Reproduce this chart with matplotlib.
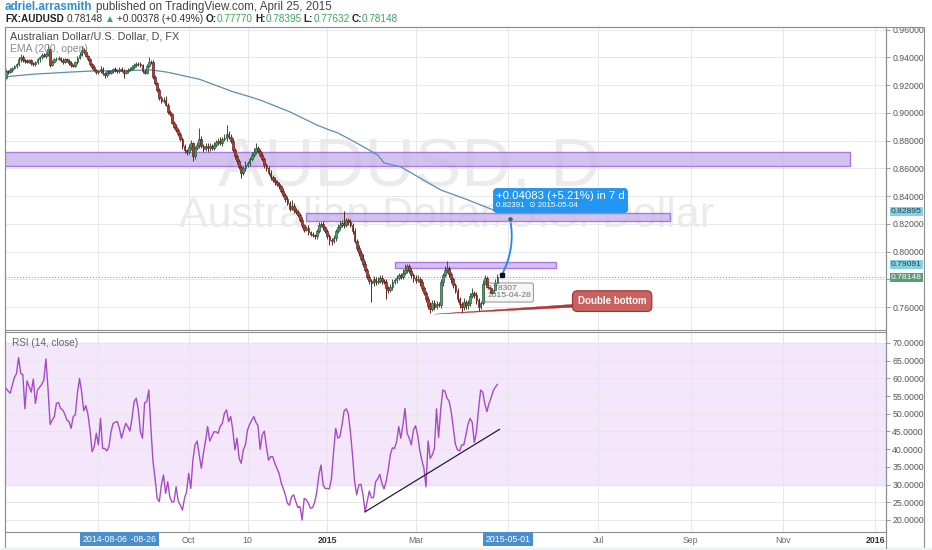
import matplotlib
matplotlib.use("Agg")
import matplotlib.pyplot as plt
import numpy as np
import pandas as pd
from matplotlib.offsetbox import TextArea, VPacker, AnnotationBbox

plt.rcParams['font.family'] = ['Liberation Sans', 'DejaVu Sans']

W, H = 932, 550

# daily closes in pips (x 1e-4), one row per week, Jun 2 2014 .. Apr 24 2015
first_open = 0.9255
closes_pips = [
    9300, 9295, 9310, 9325, 9335,
    9350, 9385, 9405, 9380, 9375,
    9370, 9380, 9360, 9350, 9365,
    9385, 9400, 9420, 9410, 9425,
    9460, 9345, 9370, 9385, 9390,
    9395, 9380, 9370, 9385, 9375,
    9360, 9345, 9340, 9365, 9395,
    9420, 9455, 9440, 9410, 9385,
    9350, 9330, 9310, 9295, 9300,
    9320, 9285, 9270, 9300, 9290,
    9300, 9315, 9310, 9300, 9320,
    9305, 9290, 9300, 9310, 9320,
    9330, 9345, 9355, 9350, 9345,
    9305, 9290, 9340, 9370, 9365,
    9260, 9215, 9165, 9110, 9085,
    9095, 9060, 9010, 8990, 8930,
    8900, 8880, 8850, 8810, 8760,
    8730, 8720, 8755, 8780, 8690,
    8745, 8770, 8815, 8760, 8740,
    8765, 8745, 8760, 8750, 8770,
    8790, 8800, 8785, 8810, 8820,
    8850, 8830, 8800, 8735, 8690,
    8650, 8610, 8570, 8600, 8625,
    8640, 8665, 8700, 8720, 8745,
    8725, 8700, 8670, 8625, 8600,
    8570, 8540, 8520, 8500, 8490,
    8470, 8440, 8410, 8380, 8350,
    8310, 8330, 8300, 8285, 8265,
    8230, 8190, 8160, 8170, 8140,
    8130, 8120, 8110, 8150, 8195,
    8200, 8175, 8150, 8110, 8085,
    8075, 8100, 8150, 8180, 8195,
    8210, 8190, 8225, 8215, 8195,
    8150, 8080, 8030, 7990, 7950,
    7910, 7870, 7820, 7790, 7775,
    7800, 7785, 7790, 7810, 7790,
    7780, 7740, 7725, 7745, 7780,
    7795, 7810, 7830, 7820, 7850,
    7870, 7895, 7860, 7830, 7810,
    7795, 7805, 7780, 7740, 7700,
    7660, 7610, 7590, 7630, 7605,
    7625, 7615, 7780, 7830, 7865,
    7880, 7840, 7800, 7760, 7720,
    7660, 7620, 7600, 7640, 7615,
    7630, 7680, 7705, 7690, 7650,
    7605, 7630, 7770, 7810, 7745,
    7740, 7705, 7725, 7777, 7814.8,
]
up_wick = [
    15, 10, 12, 8, 10,   12, 15, 18, 10, 12,   10, 12, 8, 10, 12,   10, 12, 15, 10, 12,
    35, 10, 12, 10, 15,  12, 10, 15, 10, 12,   10, 12, 8, 10, 15,   20, 25, 10, 12, 10,
    12, 10, 15, 10, 12,  15, 12, 10, 12, 10,   12, 10, 15, 10, 12,  10, 12, 10, 15, 12,
    15, 12, 10, 12, 15,  10, 12, 15, 30, 12,   15, 12, 10, 15, 12,  20, 25, 15, 12, 10,
    15, 20, 12, 10, 15,  15, 12, 20, 25, 12,   15, 20, 75, 20, 15,  20, 15, 25, 15, 20,
    15, 20, 30, 15, 25,  60, 20, 15, 20, 15,   15, 20, 15, 20, 25,  15, 20, 15, 25, 40,
    20, 15, 20, 15, 12,  15, 20, 12, 15, 20,   15, 12, 20, 15, 25,  15, 45, 20, 12, 15,
    15, 20, 12, 15, 20,  12, 15, 10, 15, 20,   15, 20, 12, 15, 20,  15, 20, 15, 20, 25,
    20, 80, 20, 15, 20,  15, 20, 15, 20, 25,   30, 20, 15, 20, 15,  25, 20, 30, 20, 25,
    15, 20, 15, 25, 20,  15, 20, 15, 20, 25,   40, 20, 15, 20, 15,  20, 25, 15, 20, 15,
    15, 20, 25, 20, 20,  20, 15, 25, 20, 30,   55, 20, 15, 20, 15,  20, 15, 20, 25, 15,
    20, 25, 30, 15, 20,  20, 15, 25, 20, 15,   20, 25, 20, 25, 24.7,
]
dn_wick = [
    10, 12, 10, 15, 12,  10, 12, 15, 10, 12,   12, 10, 15, 12, 10,  10, 15, 12, 10, 12,
    12, 15, 10, 12, 10,  12, 10, 15, 12, 10,   15, 12, 10, 12, 10,  10, 12, 15, 10, 12,
    12, 15, 10, 12, 15,  15, 12, 20, 10, 12,   10, 12, 15, 10, 12,  12, 35, 10, 12, 10,
    10, 12, 15, 10, 12,  15, 12, 10, 12, 15,   15, 12, 15, 20, 15,  15, 12, 20, 15, 12,
    15, 20, 15, 12, 20,  20, 25, 15, 20, 40,   20, 15, 20, 15, 25,  15, 25, 20, 15, 20,
    15, 20, 15, 20, 15,  20, 15, 20, 15, 20,   20, 15, 40, 15, 20,  15, 20, 15, 20, 15,
    15, 20, 15, 20, 15,  15, 20, 15, 20, 15,   15, 20, 15, 20, 15,  15, 12, 20, 15, 12,
    15, 20, 15, 12, 20,  15, 12, 20, 15, 12,   15, 20, 15, 20, 35,  30, 15, 20, 15, 20,
    15, 20, 15, 20, 15,  20, 15, 25, 20, 15,   20, 15, 20, 25, 135, 20, 25, 20, 15, 20,
    15, 80, 20, 15, 20,  15, 20, 15, 20, 15,   15, 20, 15, 20, 25,  20, 15, 25, 20, 15,
    25, 20, 30, 20, 25,  20, 15, 20, 25, 15,   15, 20, 25, 20, 15,  20, 25, 40, 20, 25,
    25, 20, 15, 20, 25,  30, 20, 15, 20, 25,   20, 25, 20, 14, 13.8,
]

# RSI(14, close)
rsi_vals = [
    57.2, 56.4, 55.8, 58.1, 60.2,  61.4, 65.9, 61.4, 61.1, 51.4,
    59.3, 57.7, 56.1, 59.8, 52.9,  56.7, 57.5, 58.3, 59.5, 65.5,
    57.2, 47.0, 48.2, 49.2, 52.9,  53.2, 51.5, 51.1, 49.9, 48.2,
    47.8, 45.9, 49.2, 49.7, 55.8,  60.0, 56.2, 50.8, 52.3, 49.9,
    45.4, 39.3, 40.7, 44.5, 41.2,  48.7, 40.2, 40.2, 39.5, 40.7,
    44.9, 47.3, 47.6, 47.8, 45.9,  43.1, 45.2, 47.3, 46.4, 45.1,
    48.7, 53.4, 54.4, 51.1, 44.9,  43.1, 53.1, 53.4, 56.7, 45.9,
    36.5, 31.6, 26.1, 25.2, 29.9,  32.7, 27.5, 30.8, 26.6, 25.0,
    25.2, 29.4, 25.4, 24.2, 22.8,  26.1, 28.0, 33.2, 28.9, 36.9,
    41.2, 42.3, 38.5, 34.6, 38.8,  42.3, 46.4, 42.3, 43.5, 44.9,
    44.9, 44.5, 46.4, 47.3, 50.1,  51.1, 47.8, 49.2, 45.4, 39.8,
    43.1, 37.4, 36.0, 39.8, 41.2,  45.4, 47.0, 48.2, 49.2, 47.6,
    46.6, 40.0, 44.0, 45.1, 40.7,  36.9, 37.9, 37.9, 36.0, 34.6,
    33.2, 30.6, 28.9, 27.1, 24.7,  24.2, 26.6, 27.1, 25.2, 23.5,
    23.8, 20.0, 26.1, 25.7, 24.7,  23.3, 23.5, 25.0, 28.0, 32.7,
    35.5, 29.9, 28.9, 28.9, 28.8,  31.8, 39.3, 45.9, 43.1, 43.5,
    46.8, 50.8, 51.4, 50.1, 44.9,  38.4, 30.8, 27.1, 29.9, 30.1,
    27.1, 22.3, 25.2, 28.2, 26.3,  26.3, 30.8, 31.6, 32.9, 30.3,
    28.8, 30.8, 34.1, 38.4, 40.4,  40.2, 42.1, 46.4, 43.1, 46.8,
    51.5, 44.5, 43.1, 41.2, 45.4,  46.6, 44.0, 39.8, 36.9, 34.6,
    29.4, 42.3, 37.4, 38.4, 40.2,  51.4, 43.3, 51.1, 56.7, 56.4,
    54.4, 53.6, 50.6, 45.9, 41.4,  39.8, 39.5, 41.2, 41.2, 44.0,
    47.0, 48.7, 47.6, 41.9, 44.8,  51.1, 56.7, 56.2, 52.9, 50.6,
    52.9, 54.5, 56.5, 57.5, 58.3,
]

# EMA(200, open) read at a few dates
ema_dates = ['2014-06-02', '2014-06-19', '2014-07-11', '2014-07-29', '2014-08-14',
             '2014-09-05', '2014-09-17', '2014-10-08', '2014-10-30', '2014-11-11',
             '2014-11-18', '2014-12-08', '2014-12-25', '2015-01-02', '2015-01-08',
             '2015-01-21', '2015-02-04', '2015-02-09', '2015-02-19', '2015-03-18',
             '2015-04-06', '2015-04-22', '2015-04-24']
ema_vals = [0.9261, 0.9279, 0.9293, 0.9302, 0.9304,
            0.9310, 0.9293, 0.9243, 0.9153, 0.9117,
            0.9093, 0.9009, 0.8913, 0.8877, 0.8856,
            0.8783, 0.8697, 0.8640, 0.8611, 0.8445,
            0.8373, 0.8301, 0.82895]

price_ticks = [0.76, 0.78, 0.80, 0.82, 0.84, 0.86, 0.88, 0.90, 0.92, 0.94, 0.96]
rsi_ticks = [20, 25, 30, 35, 40, 45, 50, 55, 60, 65, 70]
date_ticks = ['2014-08-01', '2014-10-01', '2014-11-10', '2015-01-01', '2015-03-02',
              '2015-05-01', '2015-07-01', '2015-09-01', '2015-11-02', '2016-01-01']
date_labels = ['', 'Oct', '10', '2015', 'Mar', '', 'Jul', 'Sep', 'Nov', '2016']

# drawings: (start date, end date, top, bottom)
zones = [('2014-05-01', '2015-12-16', 0.8721, 0.8620),
         ('2014-12-18', '2015-08-18', 0.8279, 0.8220),
         ('2015-02-16', '2015-06-03', 0.7928, 0.7880)]
proj_start = ('2015-04-28', 0.78307)
proj_end = ('2015-05-04', 0.82391)
db_tip = ('2015-03-13', 0.7550)
rsi_trend = [('2015-01-27', 22.3), ('2015-04-27', 45.6)]
last_close = 0.78148

# bar index axis, like TradingView (weekends skipped)
closes = np.array(closes_pips) / 10000
opens = np.r_[first_open, closes[:-1]]
highs = np.maximum(opens, closes) + np.array(up_wick) / 10000
lows = np.minimum(opens, closes) - np.array(dn_wick) / 10000
days = pd.bdate_range(end='2015-04-24', periods=len(closes))
cal = pd.bdate_range('2014-05-01', '2016-02-29')
origin = cal.searchsorted(days[0])


def pos(d):
    return cal.searchsorted(pd.Timestamp(d)) - origin


x = np.array([pos(d) for d in days])

fig = plt.figure(figsize=(W / 100, H / 100), dpi=100)
fig.patch.set_facecolor('white')
ax = fig.add_axes([5 / W, 1 - 330 / H, 881 / W, 303 / H])
ax_rsi = fig.add_axes([5 / W, 1 - 532 / H, 881 / W, 200 / H])
xlim = (-0.48, 419.05)

grid_c = '#e8e8e8'
frame_c = '#8e8e8e'
for a in (ax, ax_rsi):
    a.set_xlim(*xlim)
    a.set_xticks([pos(d) for d in date_ticks])
    a.grid(True, color=grid_c, lw=0.7, zorder=0)
    a.set_axisbelow(True)
    a.yaxis.tick_right()
    a.tick_params(axis='y', direction='out', length=3, pad=1.5, labelsize=6.3,
                  labelcolor='#555555', color='#8a8a8a', width=0.6)
    for s in a.spines.values():
        s.set_color(frame_c)
        s.set_linewidth(0.8)

# ---- price pane
ax.set_ylim(0.7436, 0.9619)
ax.set_yticks(price_ticks)
# the 0.78 label sits under the last-price tag
ax.set_yticklabels(['' if abs(v - 0.78) < 1e-9 else '%.5f' % v for v in price_ticks])
ax.tick_params(axis='x', length=0, labelbottom=False)

ax.text(0.4586, 0.535, 'AUDUSD, D', transform=ax.transAxes, ha='center', va='center',
        fontsize=50, color='#ebebeb', zorder=0.5)
ax.text(0.5006, 0.376, 'Australian Dollar/U.S. Dollar', transform=ax.transAxes,
        ha='center', va='center', fontsize=31, color='#ebebeb', zorder=0.5)

for start, end, top, bot in zones:
    x0, x1 = pos(start), pos(end)
    if start < str(days[0].date()):
        x0 = -20
    ax.add_patch(plt.Rectangle((x0, bot), x1 - x0, top - bot, facecolor='#c7b4ea',
                               edgecolor='#9d5fe0', lw=1.0, alpha=0.8, zorder=1))

ax.axhline(last_close, color='#8c8c8c', lw=0.7, ls=(0, (1, 2)), zorder=1.5)
ax.plot([pos(d) for d in ema_dates], ema_vals, color='#5b8db8', lw=0.9, zorder=2)

up = closes >= opens
edge = np.where(up, '#2a5a3f', '#65251e')
body = np.where(up, '#4c9a6c', '#b0392e')
ax.vlines(x, lows, highs, colors=edge, lw=0.7, zorder=3)
ax.bar(x, np.maximum(np.abs(closes - opens), 0.0004), bottom=np.minimum(opens, closes),
       width=0.82, color=body, edgecolor=edge, lw=0.5, zorder=4)

ax.text(5 / 881, 0.967, 'Australian Dollar/U.S. Dollar, D, FX', transform=ax.transAxes,
        ha='left', va='center', fontsize=7.8, color='#4a4a4a', zorder=6)
ax.text(5 / 881, 0.927, 'EMA (200, open)', transform=ax.transAxes,
        ha='left', va='center', fontsize=7.5, color='#8a8a8a', zorder=6)

# projection drawing
ps = (pos(proj_start[0]), proj_start[1])
pe = (pos(proj_end[0]), proj_end[1])
ax.annotate('0.78307\n2015-04-28', xy=ps, xytext=(-10.5, -7.4), textcoords='offset points',
            ha='left', va='top', fontsize=6.1, color='#707070', linespacing=1.0, zorder=3.5,
            bbox=dict(boxstyle='round,pad=0.3,rounding_size=0.25', fc='#f6f6f6', ec='#9e9e9e', lw=0.8))
ax.annotate('', xy=pe, xytext=ps,
            arrowprops=dict(arrowstyle='-', color='#1e88e5', lw=1.3,
                            connectionstyle='arc3,rad=0.18', shrinkA=0, shrinkB=0), zorder=5)
ax.plot(*ps, marker='s', ms=3.2, color='#111111', zorder=6)
ax.plot(*pe, marker='o', ms=4, mfc='#4f5f7a', mec='#c8d0e0', mew=0.6, zorder=6)

line1 = TextArea('+0.04083 (+5.21%) in 7 d', textprops=dict(color='white', fontsize=8.2))
line2 = TextArea('0.82391  \u2299 2015-05-04', textprops=dict(color='white', fontsize=5.7))
box = VPacker(children=[line1, line2], align='left', pad=0, sep=0.8)
ab = AnnotationBbox(box, pe, xybox=(-10.2, 6.7), xycoords='data', boxcoords='offset points',
                    box_alignment=(0, 0), zorder=7,
                    bboxprops=dict(boxstyle='round,pad=0.2,rounding_size=0.25', fc='#2196f3',
                                   ec='#1a7fd4', lw=0.5))
ax.add_artist(ab)

ax.annotate('Double bottom', xy=(pos(db_tip[0]), db_tip[1]), xytext=(128, 9.4),
            textcoords='offset points', ha='center', va='center', fontsize=7, fontweight='bold',
            color='white', zorder=7,
            bbox=dict(boxstyle='round,pad=0.55,rounding_size=0.5', fc='#c9625e', ec='#9c3232', lw=0.8),
            arrowprops=dict(arrowstyle='wedge,tail_width=0.3,shrink_factor=0.5', fc='#b23636',
                            ec='#b23636', lw=0.3, shrinkA=0, shrinkB=0, relpos=(0.05, 0.08)))

# right-axis value labels
for val, fc, tc in [(0.82895, '#86d2e3', '#1f3f4f'), (0.79091, '#86d2e3', '#1f3f4f'),
                    (last_close, '#5d9b74', 'white')]:
    ax.annotate('%.5f' % val, xy=(1, val), xycoords=('axes fraction', 'data'),
                xytext=(3.4, 0), textcoords='offset points', ha='left', va='center',
                fontsize=6.1, color=tc, annotation_clip=False, zorder=9,
                bbox=dict(boxstyle='square,pad=0.12', fc=fc, ec='none'))

# ---- RSI pane
ax_rsi.set_ylim(16.6, 73.1)
ax_rsi.set_yticks(rsi_ticks)
ax_rsi.set_yticklabels(['%.4f' % v for v in rsi_ticks])
ax_rsi.axhspan(30, 70, color='#f4e7fc', zorder=0.2)
ax_rsi.axhline(70, color='#cfc3da', lw=0.8, zorder=0.3)
ax_rsi.axhline(30, color='#cfc3da', lw=0.8, zorder=0.3)
ax_rsi.plot(x[:len(rsi_vals)], rsi_vals, color='#a64bc6', lw=1.0, zorder=3)
ax_rsi.plot([pos(d) for d, _ in rsi_trend], [v for _, v in rsi_trend], color='#222222',
            lw=0.9, zorder=4)
ax_rsi.text(7 / 881, 0.945, 'RSI (14, close)', transform=ax_rsi.transAxes, ha='left',
            va='center', fontsize=7.2, color='#666666')

ax_rsi.set_xticklabels(date_labels)
ax_rsi.tick_params(axis='x', length=0, pad=3, labelsize=6.3, labelcolor='#666666')
for lab in ax_rsi.get_xticklabels():
    if lab.get_text() in ('2015', '2016'):
        lab.set_fontweight('bold')
        lab.set_color('#333333')

xb = ax_rsi.get_xaxis_transform()
for d in ['2014-08-26', '2014-08-06', '2015-05-01']:
    ax_rsi.text(pos(d), -0.036, d, transform=xb, ha='center', va='center', fontsize=6.3,
                color='white', clip_on=False, zorder=10,
                bbox=dict(boxstyle='square,pad=0.3', fc='#4a8fcb', ec='none'))

# outer frame and axis strips
fig.add_artist(plt.Rectangle((5 / W, 2 / H), 919 / W, 521 / H, transform=fig.transFigure,
                             fill=False, ec=frame_c, lw=0.8))
fig.add_artist(plt.Line2D([886 / W, 886 / W], [2 / H, 523 / H], transform=fig.transFigure,
                          color=frame_c, lw=0.8))
fig.add_artist(plt.Rectangle((0, 0), 1, 2 / H, transform=fig.transFigure, fc='#eef1f6', ec='none'))

# header
fig.canvas.draw()
rend = fig.canvas.get_renderer()


def chain(x_px, y_px, parts, size):
    for txt, col, wt, gap in parts:
        t = fig.text(x_px / W, 1 - y_px / H, txt, color=col, fontsize=size, fontweight=wt,
                     ha='left', va='center')
        x_px = t.get_window_extent(rend).x1 + gap


chain(5, 7, [('adriel.arrasmith', '#2b8fd6', 'bold', 3),
             ('published on TradingView.com, April 25, 2015', '#444444', 'normal', 0)], 8.4)
green = '#3aa65a'
chain(5, 19.5, [('FX:AUDUSD', '#222222', 'bold', 3), ('0.78148', '#333333', 'normal', 2),
                ('\u25B2', green, 'normal', 2), ('+0.00378 (+0.49%)', '#333333', 'normal', 3),
                ('O:', '#222222', 'bold', 0), ('0.77770', green, 'normal', 2),
                ('H:', '#222222', 'bold', 0), ('0.78395', green, 'normal', 2),
                ('L:', '#222222', 'bold', 0), ('0.77632', green, 'normal', 2),
                ('C:', '#222222', 'bold', 0), ('0.78148', green, 'normal', 0)], 7.2)

fig.savefig('out.png', dpi=100)
